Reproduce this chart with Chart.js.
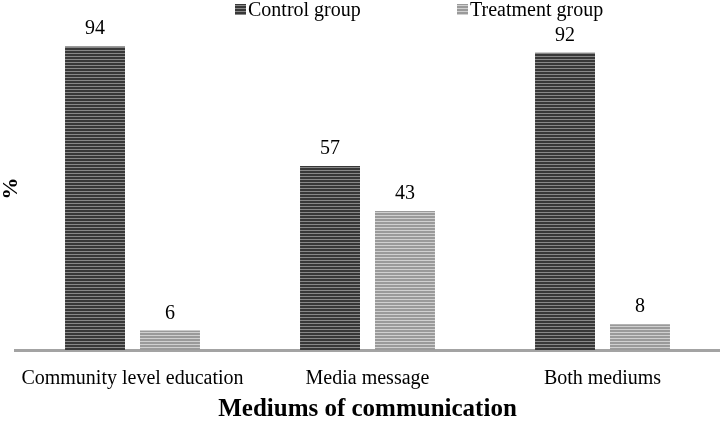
<!DOCTYPE html>
<html>
<head>
<meta charset="utf-8">
<script src="https://cdn.jsdelivr.net/npm/chart.js@4"></script>
<style>
  html, body { margin: 0; padding: 0; background: #fff; }
  #wrap { width: 720px; height: 422px; }
</style>
</head>
<body>
<div id="wrap"><canvas id="mediumChart" width="720" height="422"></canvas></div>
<script>
const categories = ["Community level education", "Media message", "Both mediums"];
const controlGroup = [94, 57, 92];
const treatmentGroup = [6, 43, 8];
const seriesNames = ["Control group", "Treatment group"];

const serif = "'Liberation Serif', 'Times New Roman', serif";

// horizontal stripe fill like the printed figure
function stripes(dark, light) {
  const c = document.createElement("canvas");
  c.width = 4; c.height = 3;
  const g = c.getContext("2d");
  g.fillStyle = light; g.fillRect(0, 0, 4, 3);
  g.fillStyle = dark; g.fillRect(0, 0, 4, 2);
  return g.createPattern(c, "repeat");
}

const ctx = document.getElementById("mediumChart").getContext("2d");
const darkFill = stripes("#383838", "#888888");
const lightFill = stripes("#9a9a9a", "#d0d0d0");

// values above the bars
const valueLabels = {
  id: "valueLabels",
  afterDatasetsDraw(chart) {
    const g = chart.ctx;
    g.save();
    g.font = "20px " + serif;
    g.fillStyle = "#000";
    g.textAlign = "center";
    g.textBaseline = "alphabetic";
    chart.data.datasets.forEach((ds, i) => {
      chart.getDatasetMeta(i).data.forEach((bar, j) => {
        g.fillText(String(ds.data[j]), bar.x, bar.y - 12);
      });
    });
    g.restore();
  }
};

// legend row at the top, items spaced wide apart
const topLegend = {
  id: "topLegend",
  afterDraw(chart) {
    const g = chart.ctx;
    const starts = [235, 457];
    g.save();
    g.font = "20px " + serif;
    g.textBaseline = "middle";
    chart.data.datasets.forEach((ds, i) => {
      const x = starts[i];
      g.fillStyle = ds.backgroundColor;
      g.fillRect(x, 4, 11, 11);
      g.fillStyle = "#000";
      g.textAlign = "left";
      g.fillText(ds.label, x + 13, 11);
    });
    g.restore();
  }
};

new Chart(ctx, {
  type: "bar",
  data: {
    labels: categories,
    datasets: [
      { label: seriesNames[0], data: controlGroup, backgroundColor: darkFill },
      { label: seriesNames[1], data: treatmentGroup, backgroundColor: lightFill }
    ]
  },
  options: {
    responsive: false,
    animation: false,
    devicePixelRatio: 1,
    layout: { padding: { top: 27, left: 0, right: 0, bottom: 0 } },
    datasets: { bar: { categoryPercentage: 0.638, barPercentage: 0.8 } },
    scales: {
      x: {
        grid: { display: false },
        border: { display: true, color: "#a3a3a3", width: 3 },
        ticks: { color: "#000", font: { family: serif, size: 20, lineHeight: 1.2 }, padding: 9, maxRotation: 0 },
        title: {
          display: true,
          text: "Mediums of communication",
          color: "#000",
          font: { family: serif, size: 25, weight: "bold", lineHeight: 1 },
          padding: { top: 0, bottom: 0 }
        },
        afterFit(scale) { scale.height = 72; }
      },
      y: {
        min: 0,
        max: 100,
        grid: { display: false },
        border: { display: false },
        ticks: { display: false },
        title: {
          display: true,
          text: "%",
          color: "#000",
          font: { family: serif, size: 22, weight: "bold", lineHeight: 1 },
          padding: { top: 0, bottom: 0 }
        },
        afterFit(scale) { scale.width = 15; }
      }
    },
    plugins: {
      legend: { display: false },
      tooltip: { enabled: false }
    }
  },
  plugins: [valueLabels, topLegend]
});
</script>
</body>
</html>
